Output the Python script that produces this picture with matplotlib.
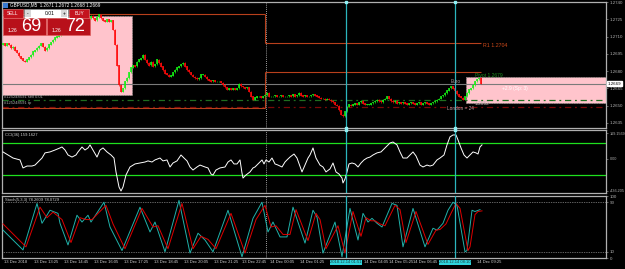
import numpy as np
import matplotlib.pyplot as plt
from matplotlib.patches import Rectangle

W, H = 625, 269

# GBPUSD M5 closes, one per bar (13 Dec 12:05 -> 14 Dec 09:25)
closes = [
    1.2704, 1.2702, 1.2704, 1.2703, 1.2700, 1.2701, 1.2698, 1.2696, 1.2693, 1.2691,
    1.2689, 1.2688, 1.2690, 1.2692, 1.2694, 1.2697, 1.2698, 1.2700, 1.2702, 1.2704,
    1.2701, 1.2698, 1.2700, 1.2703, 1.2705, 1.2707, 1.2709, 1.2710, 1.2711, 1.2713,
    1.2716, 1.2717, 1.2719, 1.2718, 1.2721, 1.2723, 1.2722, 1.2724, 1.2726, 1.2724,
    1.2723, 1.2725, 1.2727, 1.2726, 1.2728, 1.2726, 1.2724, 1.2727, 1.2729, 1.2726,
    1.2724, 1.2723, 1.2725, 1.2723, 1.2724, 1.2716, 1.2703, 1.2685, 1.2668, 1.2662,
    1.2665, 1.2671, 1.2674, 1.2679, 1.2683, 1.2685, 1.2684, 1.2688, 1.2690, 1.2691,
    1.2694, 1.2690, 1.2687, 1.2685, 1.2688, 1.2684, 1.2686, 1.2690, 1.2687, 1.2684,
    1.2681, 1.2678, 1.2677, 1.2675, 1.2676, 1.2679, 1.2681, 1.2683, 1.2684, 1.2686,
    1.2687, 1.2684, 1.2681, 1.2679, 1.2677, 1.2675, 1.2674, 1.2673, 1.2674, 1.2677,
    1.2677, 1.2675, 1.2673, 1.2672, 1.2671, 1.2672, 1.2671, 1.2671, 1.2671, 1.2670,
    1.2668, 1.2666, 1.2664, 1.2665, 1.2664, 1.2665, 1.2664, 1.2665, 1.2669, 1.2667,
    1.2666, 1.2665, 1.2666, 1.2662, 1.2658, 1.2655, 1.2657, 1.2658, 1.2658, 1.2657,
    1.2658, 1.2659, 1.2661, 1.2658, 1.2658, 1.2658, 1.2659, 1.2658, 1.2658, 1.2659,
    1.2658, 1.2658, 1.2658, 1.2659, 1.2658, 1.2660, 1.2658, 1.2659, 1.2661, 1.2659,
    1.2658, 1.2659, 1.2658, 1.2658, 1.2659, 1.2660, 1.2659, 1.2658, 1.2657, 1.2656,
    1.2656, 1.2655, 1.2656, 1.2655, 1.2654, 1.2653, 1.2651, 1.2650, 1.2646, 1.2642,
    1.2641, 1.2645, 1.2649, 1.2651, 1.2650, 1.2651, 1.2652, 1.2651, 1.2653, 1.2654,
    1.2652, 1.2651, 1.2651, 1.2651, 1.2652, 1.2653, 1.2654, 1.2655, 1.2654, 1.2653,
    1.2655, 1.2656, 1.2658, 1.2656, 1.2654, 1.2653, 1.2654, 1.2652, 1.2653, 1.2652,
    1.2653, 1.2652, 1.2651, 1.2652, 1.2653, 1.2652, 1.2651, 1.2652, 1.2653, 1.2651,
    1.2652, 1.2653, 1.2652, 1.2651, 1.2652, 1.2653, 1.2654, 1.2655, 1.2656, 1.2658,
    1.2659, 1.2661, 1.2663, 1.2665, 1.2667, 1.2665, 1.2663, 1.2660, 1.2658, 1.2657,
    1.2655, 1.2658, 1.2661, 1.2664, 1.2665, 1.2668, 1.2671, 1.2673, 1.2674, 1.2669,
]
first_open = 1.2703

# CCI(36)
cci_bar = [0, 5, 8.5, 10, 12, 14.5, 16, 17.5, 19.5, 21, 23.5, 26, 28.5, 29.5, 31, 32.5,
           34.5, 36.5, 37.5, 39.5, 41, 42.5, 43.5, 45, 47, 48.5, 50, 52, 54, 55.5, 56.5,
           58, 59, 60, 61.5, 63.5, 66, 68.5, 71, 72.5, 74.5, 76, 78.5, 80, 82, 83.5, 85,
           87, 89, 90.5, 92, 93.5, 95, 97, 98.5, 101, 102.5, 104, 105, 106.5, 108.5, 111,
           112.5, 114, 115.5, 117, 118.5, 119.5, 120, 121.5, 123.5, 125, 126, 127.5,
           129.5, 130.5, 131.5, 133, 134.5, 136, 137.5, 139.5, 141, 142, 143.5, 145.5,
           147, 149.5, 151, 152.5, 153.5, 155, 156.5, 158.5, 160, 161.5, 163.5, 165,
           166.5, 168, 169.5, 170, 171, 172, 173, 174.5, 176, 177.5, 179, 180.5, 182,
           183.5, 185, 187, 189, 191, 193.5, 195, 197, 198.5, 200, 202, 203.5, 205,
           206.5, 208.5, 210, 212, 213.5, 215, 217, 218.5, 220.5, 222, 223.5, 225, 226.5,
           227.5, 229, 230.5, 232, 233.5, 235, 236.5, 237.5, 238.5, 239.5]
cci_val = [44, 6, -6, -56, -44, -44, -38, -19, 6, 38, 44, 56, 69, 75, 56, 25,
           12, 25, 44, 75, 56, 69, 88, 56, 12, 56, 69, 44, 25, 6, -81,
           -175, -200, -175, -100, -50, -31, -25, -19, -12, -19, -6, 6, -12, -6, -50, -25,
           -12, 25, 6, -12, -50, -69, -50, -38, -50, -56, -94, -100, -69, -56, -50,
           -19, -6, -31, -31, -6, -88, -119, -100, -81, -56, -50, -31,
           -6, -31, -6, -19, 6, -31, -38, -50, -19, -6, 12, 31,
           6, -81, -38, 6, 25, 69, 6, -38, -50, -81, -62, -25,
           -81, -94, -119, -150, -125, -81, -31, -25, -31, -50, -25, -6, 6,
           12, 25, 38, 44, 69, 100, 106, 88, 44, 6, 6, 25, 44,
           19, -38, -50, -38, -44, -38, -6, 6, 25, 88, 138, 150, 150,
           119, 69, 25, 6, 25, 44, 38, 31, 75, 88]

# Stochastic(5,3,3): main and signal
stoch_bar = [0, 10, 17, 19.5, 23.5, 27.5, 28.5, 32.5, 37, 39.5, 42.5, 44, 50.5, 53.5,
             59.5, 68.5, 73.5, 76, 81, 88, 93.5, 97.5, 101, 105, 112.5, 119.5, 125,
             129.5, 132.5, 135, 138.5, 142, 145, 151, 155, 157, 160, 166, 169.5, 173.5,
             177.5, 180, 182.5, 184.5, 187, 189.5, 194.5, 197, 200, 205, 211, 215, 217,
             220, 222.5, 225, 227, 231, 232, 234.5, 236, 238.5]
stoch_main = [45, 13, 88, 56, 77, 72, 56, 21, 69, 58, 69, 58, 90, 50,
              12, 82, 42, 58, 10, 93, 8, 40, 29, 10, 77, 2, 64,
              90, 42, 58, 34, 34, 82, 24, 77, 66, 8, 58, 2, 80,
              29, 72, 58, 64, 56, 50, 88, 85, 18, 80, 18, 48, 45,
              56, 77, 90, 85, 10, 12, 77, 75, 78]
signal_bar = [0, 11.5, 18.5, 22, 25, 29.5, 34, 38.5, 41.5, 44.5, 51.5, 55, 61, 69.5,
              75, 77.5, 82.5, 89.5, 95, 99, 102.5, 106.5, 114, 121, 126.5, 131, 134,
              136.5, 140, 143.5, 146.5, 152.5, 156.5, 158.5, 161.5, 167.5, 171, 175,
              179, 181.5, 184, 186, 188.5, 191, 196, 198.5, 201.5, 206.5, 212.5, 216.5,
              218.5, 221.5, 224, 226.5, 228.5, 232.5, 233.5, 236, 237.5, 239.5]
stoch_signal = [55, 18, 82, 65, 74, 62, 25, 65, 62, 62, 85, 55, 15, 80,
                50, 52, 15, 88, 15, 35, 30, 15, 72, 8, 62, 85, 50,
                52, 38, 38, 78, 28, 72, 62, 15, 52, 8, 75,
                35, 65, 60, 60, 55, 52, 85, 78, 25, 75, 22, 45,
                46, 55, 72, 88, 80, 12, 18, 70, 75, 76]

price_ticks = [1.2740, 1.2725, 1.2710, 1.2695, 1.2680, 1.2665, 1.2650, 1.2635]
bid = 1.2669
entry = 1.2655
take_profit = 1.2649
pivots_prev = (1.2730, 1.2648)     # R1, pivot on 13 Dec
pivots_now = (1.2704, 1.2679)      # R1, pivot on 14 Dec
day_start = 131.5
vlines_at = [171.5, 226]
box_left = (-0.5, 64.5, 1.2659, 1.2728)
box_right = (231.5, 301.5, 1.2652, 1.2675)

# time scale labels (the 02:45 and 08:05 ones sit under the highlighted line labels)
date_pos = [-0.5, 14.5, 29.5, 44.5, 59.5, 74.5, 89.5, 104.5, 118.5, 132.5, 147.5,
            179.5, 192, 204, 236]
date_labels = ["13 Dec 2018", "13 Dec 13:25", "13 Dec 14:45", "13 Dec 16:05",
               "13 Dec 17:25", "13 Dec 18:45", "13 Dec 20:05", "13 Dec 21:25",
               "13 Dec 22:45", "14 Dec 00:05", "14 Dec 01:25",
               "14 Dec 04:05", "14 Dec 05:25", "14 Dec 06:45",
               "14 Dec 09:25"]
vline_labels = ["2018.12.14 01:51", "2018.12.14 08:10"]

FONT = "Liberation Sans"
FS = 3.2
DFS = 3.0
GRID = "#b0b0b0"
CYAN = "#2bb5bd"
ORANGE = "#b8401c"


def px_box(x0, y0, x1, y1):
    return [x0 / W, 1 - y1 / H, (x1 - x0) / W, (y1 - y0) / H]


fig = plt.figure(figsize=(W / 100, H / 100), dpi=100, facecolor="black")
ax_p = fig.add_axes(px_box(2, 2, 606, 128))
ax_c = fig.add_axes(px_box(2, 130, 606, 193))
ax_s = fig.add_axes(px_box(2, 196, 606, 258))

for ax in (ax_p, ax_c, ax_s):
    ax.set_facecolor("black")
    ax.set_xlim(-0.5, 301.5)
    for sp in ax.spines.values():
        sp.set_color(GRID)
        sp.set_linewidth(0.9)
    ax.yaxis.tick_right()
    ax.tick_params(axis="y", colors=GRID, labelsize=FS, length=1.5, width=0.4, pad=1)
    ax.tick_params(axis="x", bottom=False, labelbottom=False)
    ax.axvline(day_start, color="#d0d0d0", lw=0.6, ls=(0, (1, 1.5)), zorder=1)
    for v in vlines_at:
        ax.axvline(v, color=CYAN, lw=0.9, zorder=5)

# ---- price panel
ax_p.set_ylim(1.26306, 1.2740)
ax_p.set_yticks(price_ticks)
ax_p.set_yticklabels([f"{t:.4f}" for t in price_ticks], family=FONT)

x = np.arange(len(closes))
c = np.array(closes)
o = np.array([first_open] + closes[:-1])
up = c >= o
lo = np.minimum(o, c)
hi = np.maximum(o, c)
GREEN_C, RED_C = "#14f014", "#ff0a0a"
ax_p.vlines(x[up], lo[up] - 0.00005, hi[up] + 0.00005, color=GREEN_C, lw=0.5, zorder=3)
ax_p.vlines(x[~up], lo[~up] - 0.00005, hi[~up] + 0.00005, color=RED_C, lw=0.5, zorder=3)
ax_p.vlines(x[up], lo[up], hi[up] + 0.00002, color=GREEN_C, lw=1.15, zorder=3)
ax_p.vlines(x[~up], lo[~up] - 0.00002, hi[~up], color=RED_C, lw=1.15, zorder=3)

# boxes
for x0, x1, y0, y1 in (box_left, box_right):
    ax_p.add_patch(Rectangle((x0, y0), x1 - x0, y1 - y0, facecolor="#ffc4cc",
                             edgecolor="#9a8a8a", lw=0.6, ls=(0, (2, 1)), zorder=0.5))

# horizontal levels
ax_p.axhline(bid, color="#7a7a7a", lw=0.8, zorder=2)
ax_p.axhline(entry, color="#1f6e1f", lw=0.9, ls=(0, (5, 3, 1.5, 3)), zorder=2)
ax_p.axhline(take_profit, color="#7a0808", lw=0.9, ls=(0, (5, 3, 1.5, 3)), zorder=2)
ax_p.hlines([pivots_prev[0], pivots_prev[1]], -0.5, 131, color=ORANGE, lw=0.8, zorder=2)
ax_p.hlines([pivots_now[0], pivots_now[1]], 131, 239, color=ORANGE, lw=0.8, zorder=2)
ax_p.vlines(131, pivots_prev[0], pivots_now[0], color=ORANGE, lw=0.8, zorder=2)
ax_p.vlines(131, pivots_prev[1], pivots_now[1], color=ORANGE, lw=0.8, zorder=2)
ax_p.text(240, pivots_now[0] - 0.0002, f"R1 {pivots_now[0]:.4f}", color="#d04a1a",
          fontsize=3.8, family=FONT, va="center", zorder=6)
ax_p.text(236, pivots_now[1] - 0.00025, f"Pivot {pivots_now[1]:.4f}", color="#1e8a1e",
          fontsize=3.6, family=FONT, va="center", zorder=6)
ax_p.text(249.5, 1.2665, "+2.9 (Sp: 3)", color="white", fontsize=3.5, family=FONT,
          va="center", zorder=6)
ax_p.text(224, 1.2671, "Euro", color="#b0a0a0", fontsize=3.4, family=FONT,
          va="center", zorder=6)
ax_p.text(222, 1.26475, "London = 24", color="#c0a0a8", fontsize=3.4, family=FONT,
          va="center", zorder=6)
ax_p.text(236, 1.26515, "1.2652", color="#c0b0b0", fontsize=3.4, family=FONT,
          va="center", zorder=6)
ax_p.text(0.5, entry + 0.00025, "#125248591 sell 0.01", color="#a8a8a8", fontsize=3.0,
          family=FONT, va="center", zorder=6)
ax_p.text(0.5, take_profit + 0.0003, "#125248591 tp", color="#a8a8a8", fontsize=3.0,
          family=FONT, va="center", zorder=6)
for v in vlines_at:
    for yy in (0, 1):
        ax_p.plot(v, yy, "s", ms=1.6, color="#8ff0f4", transform=ax_p.get_xaxis_transform(),
                  clip_on=False, zorder=7)
ax_p.annotate(f"{bid:.4f}", xy=(1, bid), xycoords=ax_p.get_yaxis_transform(),
              xytext=(1.3, 0), textcoords="offset points", fontsize=FS, family=FONT,
              color="black", va="center",
              bbox=dict(boxstyle="square,pad=0.15", fc="white", ec="white"))

# ---- CCI panel
ax_c.set_ylim(-212.5, 181)
ax_c.axhline(100, color="#1ee01e", lw=0.9, zorder=2)
ax_c.axhline(-100, color="#1ee01e", lw=0.9, zorder=2)
ax_c.plot(cci_bar, cci_val, color="white", lw=0.7, zorder=3)
ax_c.set_yticks([162, 0, -200])
ax_c.set_yticklabels(["169.1569", "0.00", "-436.205"], family=FONT, fontsize=2.7)
ax_c.text(0.005, 0.92, "CCI(36) 159.1627", transform=ax_c.transAxes, color="#d0d0d0",
          fontsize=3.0, family=FONT, va="center")
for v in vlines_at:
    ax_c.plot(v, 1, "s", ms=1.6, color="#8ff0f4", transform=ax_c.get_xaxis_transform(),
              clip_on=False, zorder=7)

# ---- Stochastic panel
ax_s.set_ylim(0, 100)
ax_s.axhline(90, color="#c0c0c0", lw=0.5, ls=(0, (1, 1.5)))
ax_s.axhline(10, color="#c0c0c0", lw=0.5, ls=(0, (1, 1.5)))
ax_s.plot(stoch_bar, stoch_main, color="#20b2aa", lw=0.7, zorder=3)
ax_s.plot(signal_bar, stoch_signal, color="#e00000", lw=0.7, zorder=3)
ax_s.set_yticks([100, 90, 10, 0])
ax_s.set_yticklabels(["100", "90", "10", "0"], family=FONT)
ax_s.text(0.005, 0.93, "Stoch(5,3,3) 78.2609 78.0729", transform=ax_s.transAxes,
          color="#d0d0d0", fontsize=3.0, family=FONT, va="center")

tr = ax_s.get_xaxis_transform()
for pos, lab in zip(date_pos, date_labels):
    ax_s.text(pos + 1, -0.07, lab, transform=tr, color="#d0d0d0", fontsize=DFS,
              family=FONT, ha="left", va="center", clip_on=False)
for v, lab in zip(vlines_at, vline_labels):
    ax_s.text(v, -0.07, lab, transform=tr, color="#1a3a3a", fontsize=DFS, family=FONT,
              ha="center", va="center", clip_on=False, zorder=8,
              bbox=dict(boxstyle="square,pad=0.15", fc="#2fd5dd", ec="none"))

# ---- chart header and one-click trading panel (screen furniture)
fig.text(10 / W, 1 - 5 / H, "GBPUSD,M5  1.2671 1.2672 1.2668 1.2669", color="white",
         fontsize=3.3, family=FONT, va="center")
fig.add_artist(Rectangle((3 / W, 1 - 8 / H), 5 / W, 5 / H, transform=fig.transFigure,
                         fc="#3a7ad0", ec="none"))


def ui_rect(x0, y0, x1, y1, fc, ec="none", lw=0.5):
    fig.add_artist(Rectangle((x0 / W, 1 - y1 / H), (x1 - x0) / W, (y1 - y0) / H,
                             transform=fig.transFigure, fc=fc, ec=ec, lw=lw, zorder=10))


def ui_text(x0, y0, s, size, color="white", ha="center"):
    fig.text(x0 / W, 1 - y0 / H, s, color=color, fontsize=size, family=FONT,
             ha=ha, va="center", zorder=11)


ui_rect(3, 9, 23, 18, "#c4141e", "#e07070")
ui_text(13, 13.5, "SELL", 3.4)
ui_rect(24, 9, 68, 18, "white", "#909090")
ui_rect(25, 10, 31, 17, "#d8d8d8")
ui_rect(61, 10, 67, 17, "#d8d8d8")
ui_text(28, 13.5, "-", 3.4, "black")
ui_text(64, 13.5, "+", 3.4, "black")
ui_text(50, 13.5, "0.01", 3.6, "black")
ui_rect(69, 9, 89, 18, "#c4141e", "#e07070")
ui_text(79, 13.5, "BUY", 3.4)
ui_rect(3, 18, 46, 35, "#b8101a", "#e06060")
ui_rect(47, 18, 90, 35, "#b8101a", "#e06060")
ui_text(17, 30, "1.26", 3.6, ha="right")
ui_text(31, 26.5, "69", 13)
ui_text(61, 30, "1.26", 3.6, ha="right")
ui_text(75, 26.5, "72", 13)

fig.savefig("out.png", dpi=100, facecolor="black")
